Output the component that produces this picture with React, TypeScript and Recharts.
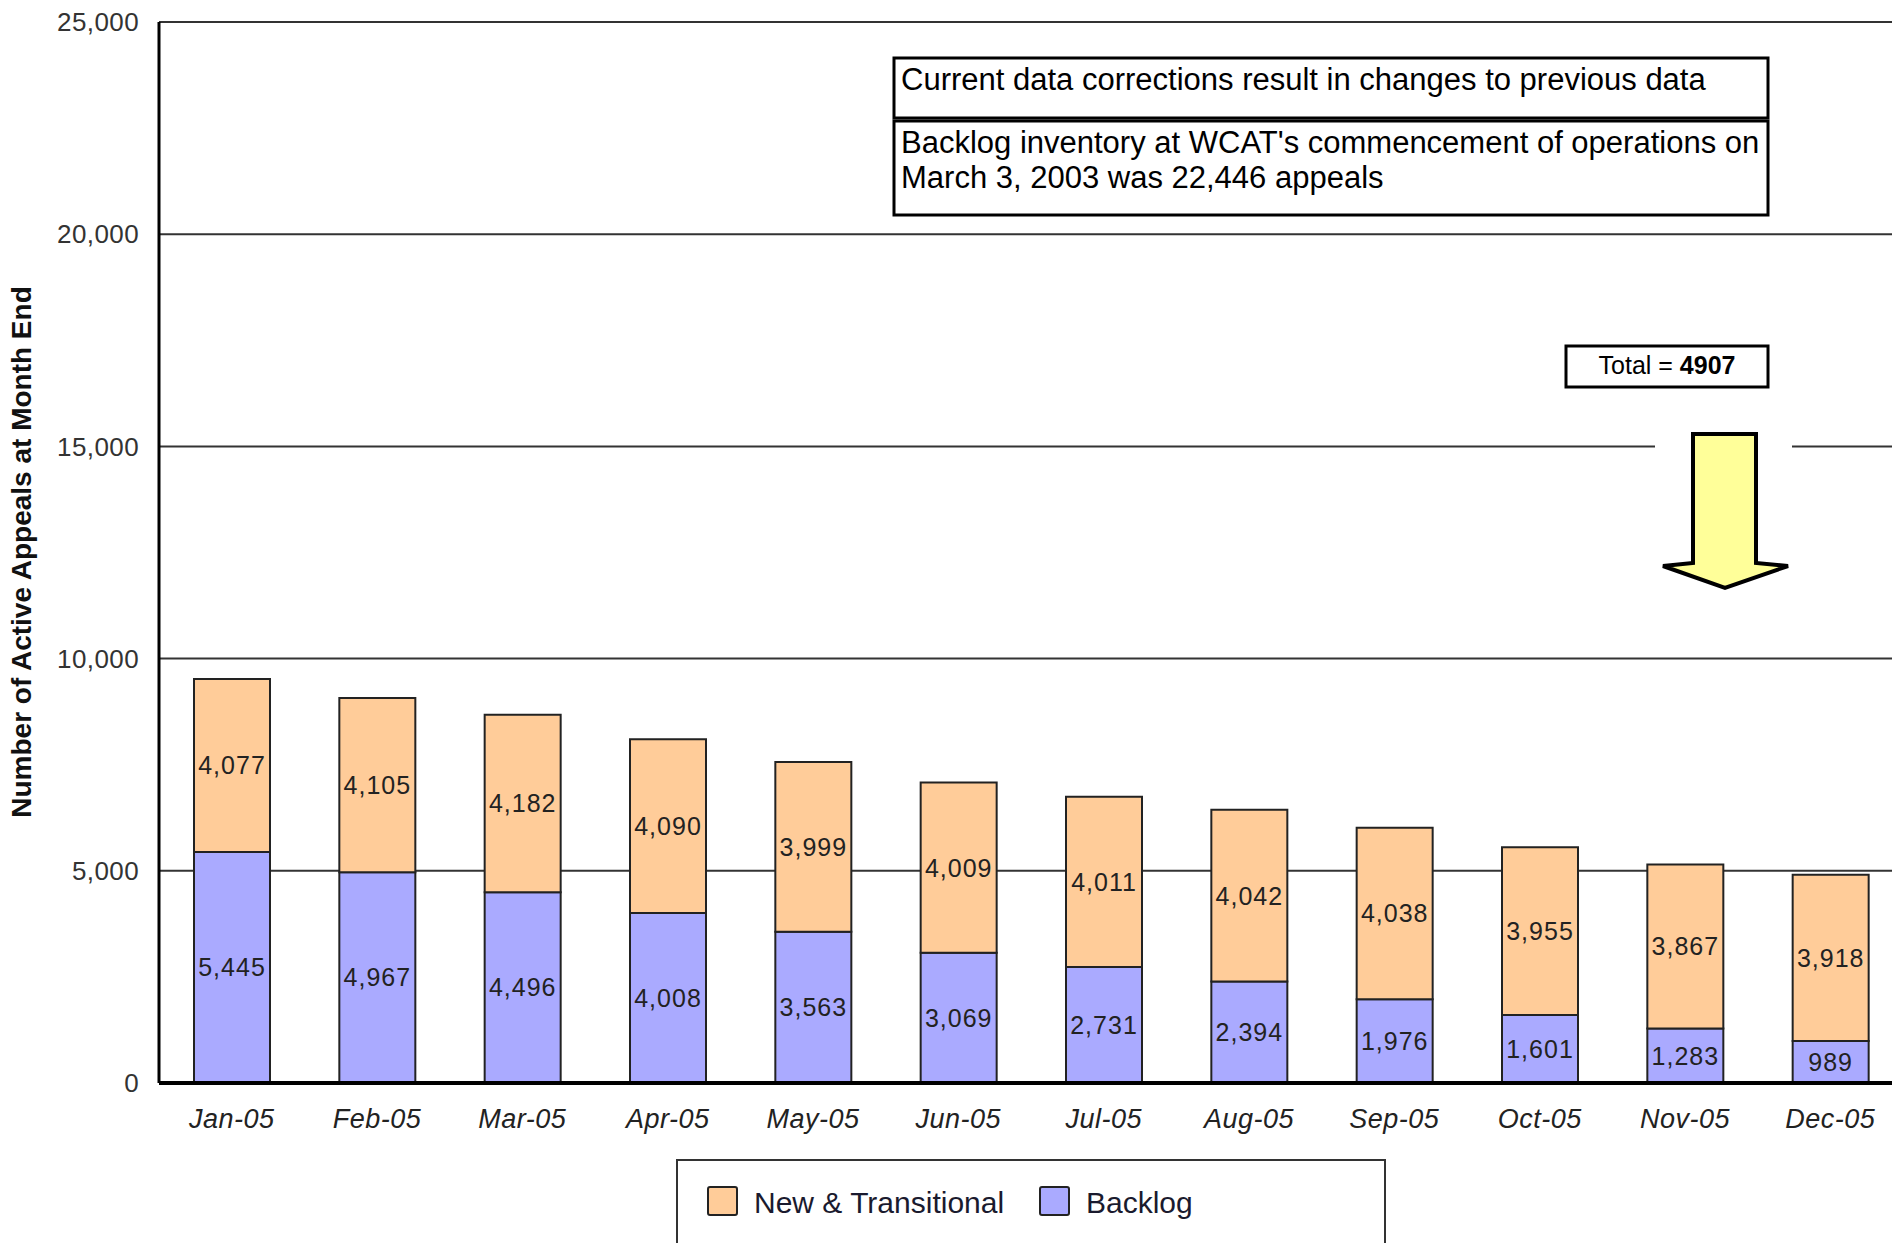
import React from "react";
import { BarChart, Bar, XAxis, YAxis, CartesianGrid, LabelList } from "recharts";

const months = ["Jan-05", "Feb-05", "Mar-05", "Apr-05", "May-05", "Jun-05", "Jul-05", "Aug-05", "Sep-05", "Oct-05", "Nov-05", "Dec-05"];
const backlog = [5445, 4967, 4496, 4008, 3563, 3069, 2731, 2394, 1976, 1601, 1283, 989];
const newTransitional = [4077, 4105, 4182, 4090, 3999, 4009, 4011, 4042, 4038, 3955, 3867, 3918];
const yTicks = [0, 5000, 10000, 15000, 20000, 25000];

const data = months.map((m, i) => ({ month: m, backlog: backlog[i], fresh: newTransitional[i] }));
const last = data.length - 1;
const yearEndTotal = backlog[last] + newTransitional[last];

const PEACH = "#FFCC99";
const LAVENDER = "#AAAAFF";
const fmt = (v: any) => Number(v).toLocaleString("en-US");

const MonthTick = (props: any) => {
  const { x, y, payload } = props;
  return (
    <text x={x} y={y + 45} textAnchor="middle" fontSize={27} fontStyle="italic" letterSpacing={0.5} fill="#222">
      {payload.value}
    </text>
  );
};

export default function App() {
  return (
    <div
      style={{
        position: "absolute",
        left: 0,
        top: 0,
        width: 1892,
        height: 1243,
        overflow: "hidden",
        background: "#fff",
        fontFamily: "'Liberation Sans', Arial, sans-serif",
      }}
    >
      <BarChart
        width={1910}
        height={1243}
        data={data}
        margin={{ top: 22, right: 7, bottom: 0, left: 0 }}
        barSize={76}
      >
        <CartesianGrid vertical={false} stroke="#333" strokeWidth={2} />
        <XAxis
          dataKey="month"
          height={160}
          tickLine={false}
          tickSize={0}
          tickMargin={0}
          axisLine={{ stroke: "#000", strokeWidth: 4 }}
          tick={<MonthTick />}
          interval={0}
        />
        <YAxis
          width={159}
          domain={[0, 25000]}
          ticks={yTicks}
          tickFormatter={fmt}
          tickLine={false}
          tickSize={0}
          tickMargin={20}
          axisLine={{ stroke: "#000", strokeWidth: 3 }}
          tick={{ fill: "#333", fontSize: 26, letterSpacing: 0.4 }}
        />
        <Bar dataKey="backlog" stackId="a" fill={LAVENDER} stroke="#222" strokeWidth={2} isAnimationActive={false}>
          <LabelList dataKey="backlog" position="center" formatter={fmt} fill="#222" fontSize={25} letterSpacing={1} />
        </Bar>
        <Bar dataKey="fresh" stackId="a" fill={PEACH} stroke="#222" strokeWidth={2} isAnimationActive={false}>
          <LabelList dataKey="fresh" position="center" formatter={fmt} fill="#222" fontSize={25} letterSpacing={1} />
        </Bar>
      </BarChart>

      {/* notes, arrow, axis title and legend drawn over the plot */}
      <svg width={1892} height={1243} style={{ position: "absolute", left: 0, top: 0, pointerEvents: "none" }}>
        <text
          transform="translate(31,552) rotate(-90)"
          textAnchor="middle"
          fontSize={28}
          fontWeight="bold"
          fill="#111"
        >
          Number of Active Appeals at Month End
        </text>

        <rect x={894} y={58} width={874} height={60} fill="#fff" stroke="#000" strokeWidth={3} />
        <text x={901} y={90} fontSize={31} fill="#000">
          Current data corrections result in changes to previous data
        </text>
        <rect x={894} y={121} width={874} height={94} fill="#fff" stroke="#000" strokeWidth={3} />
        <text x={901} y={153} fontSize={31} fill="#000">
          Backlog inventory at WCAT's commencement of operations on
        </text>
        <text x={901} y={188} fontSize={31} fill="#000">
          March 3, 2003 was 22,446 appeals
        </text>

        <rect x={1566} y={346} width={202} height={41} fill="#fff" stroke="#000" strokeWidth={3} />
        <text x={1667} y={374} fontSize={25} textAnchor="middle" fill="#000">
          Total = <tspan fontWeight="bold">{yearEndTotal}</tspan>
        </text>

        <rect x={1655} y={425} width={137} height={170} fill="#fff" />
        <polygon
          points="1693,434 1756,434 1756,563 1788,566 1725,588 1663,566 1693,563"
          fill="#FFFF99"
          stroke="#000"
          strokeWidth={4}
          strokeLinejoin="miter"
        />

        <rect x={677} y={1160} width={708} height={100} fill="#fff" stroke="#333" strokeWidth={2} />
        <rect x={708} y={1187} width={29} height={28} rx={2} fill={PEACH} stroke="#222" strokeWidth={2} />
        <text x={754} y={1213} fontSize={30} fill="#1a1a2e">
          New &amp; Transitional
        </text>
        <rect x={1040} y={1187} width={29} height={28} rx={2} fill={LAVENDER} stroke="#222" strokeWidth={2} />
        <text x={1086} y={1213} fontSize={30} fill="#1a1a2e">
          Backlog
        </text>
      </svg>
    </div>
  );
}
